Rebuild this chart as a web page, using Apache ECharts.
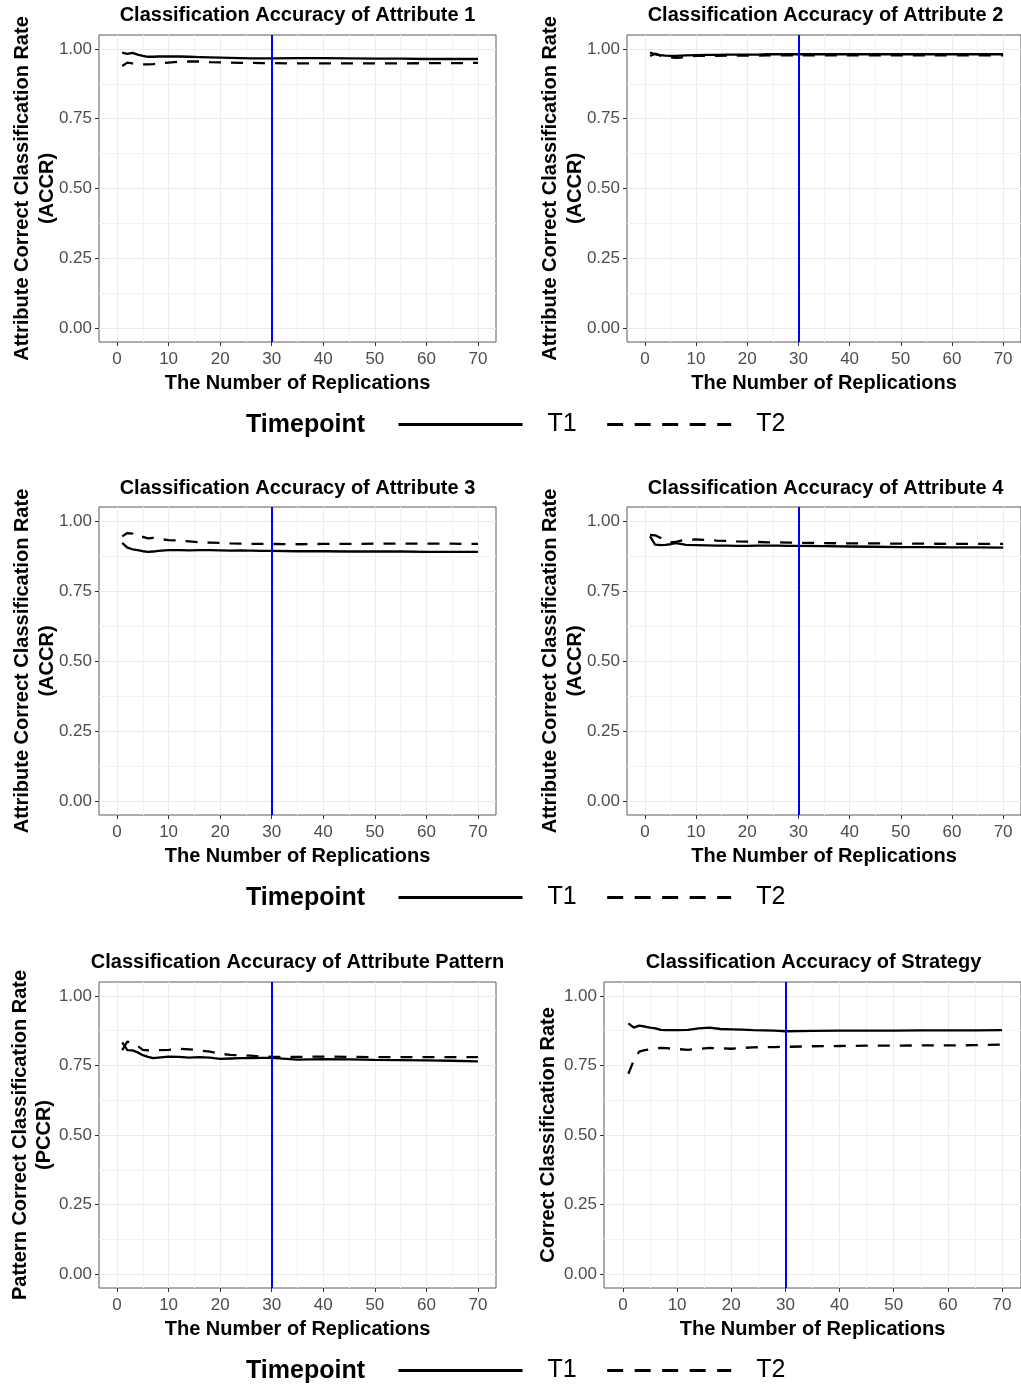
<!DOCTYPE html>
<html><head><meta charset="utf-8">
<script src="https://cdn.jsdelivr.net/npm/echarts@6/dist/echarts.min.js"></script>
<style>html,body{margin:0;padding:0;background:#fff}#c{width:1021px;height:1387px}</style>
</head><body><div id="c"></div>
<script>
// ---------------- data ----------------
const replications = [1,2,3,4,5,6,7,8,10,12,14,16,18,20,22,24,26,28,30,35,40,45,50,55,60,65,70];

const attr1T1 = [0.987,0.982,0.986,0.980,0.975,0.972,0.972,0.973,0.973,0.973,0.972,0.971,0.970,0.969,0.968,0.967,0.966,0.966,0.966,0.967,0.967,0.966,0.965,0.965,0.964,0.964,0.964];
const attr1T2 = [0.939,0.951,0.948,0.946,0.945,0.945,0.946,0.948,0.951,0.954,0.955,0.955,0.953,0.952,0.951,0.950,0.950,0.949,0.949,0.948,0.948,0.948,0.948,0.948,0.949,0.949,0.950];

const attr2T1 = [0.987,0.981,0.978,0.976,0.975,0.975,0.976,0.977,0.978,0.979,0.979,0.980,0.980,0.980,0.980,0.981,0.981,0.981,0.981,0.981,0.981,0.981,0.981,0.981,0.981,0.981,0.981];
const attr2T2 = [0.975,0.983,0.976,0.972,0.970,0.968,0.969,0.972,0.975,0.975,0.975,0.976,0.976,0.976,0.976,0.977,0.977,0.977,0.977,0.977,0.977,0.977,0.977,0.977,0.977,0.977,0.977];

const attr3T1 = [0.922,0.905,0.899,0.896,0.892,0.890,0.891,0.893,0.896,0.896,0.895,0.896,0.896,0.895,0.894,0.895,0.894,0.893,0.893,0.892,0.892,0.891,0.891,0.891,0.890,0.890,0.890];
const attr3T2 = [0.945,0.957,0.955,0.942,0.943,0.938,0.940,0.936,0.932,0.930,0.927,0.924,0.923,0.922,0.920,0.919,0.918,0.918,0.918,0.917,0.918,0.918,0.919,0.919,0.919,0.919,0.918];

const attr4T1 = [0.945,0.916,0.914,0.915,0.917,0.921,0.918,0.915,0.914,0.913,0.912,0.912,0.911,0.911,0.912,0.912,0.912,0.911,0.911,0.910,0.909,0.908,0.907,0.907,0.906,0.906,0.905];
const attr4T2 = [0.950,0.949,0.940,0.930,0.924,0.925,0.930,0.933,0.934,0.932,0.930,0.929,0.927,0.926,0.925,0.924,0.924,0.923,0.922,0.921,0.920,0.920,0.919,0.919,0.918,0.918,0.918];

const patternT1 = [0.833,0.805,0.804,0.797,0.787,0.781,0.776,0.778,0.782,0.781,0.778,0.780,0.778,0.774,0.775,0.776,0.776,0.777,0.777,0.771,0.773,0.772,0.770,0.769,0.768,0.767,0.765];
const patternT2 = [0.805,0.836,0.830,0.820,0.806,0.804,0.804,0.805,0.806,0.810,0.808,0.804,0.800,0.792,0.788,0.786,0.785,0.782,0.781,0.781,0.782,0.781,0.780,0.780,0.780,0.780,0.780];

const strategyT1 = [0.901,0.886,0.893,0.890,0.886,0.883,0.878,0.877,0.877,0.878,0.883,0.886,0.881,0.880,0.879,0.877,0.876,0.875,0.873,0.874,0.875,0.875,0.875,0.876,0.876,0.876,0.877];
const strategyT2 = [0.720,0.768,0.800,0.805,0.808,0.811,0.813,0.812,0.809,0.806,0.810,0.813,0.812,0.810,0.813,0.815,0.816,0.816,0.817,0.819,0.820,0.821,0.821,0.822,0.822,0.823,0.825];

const xTicks = [0,10,20,30,40,50,60,70];
const xMinorTicks = [5,15,25,35,45,55,65];
const yTicks = [0,0.25,0.5,0.75,1];
const yMinorTicks = [0.125,0.375,0.625,0.875];
const cutoffReplication = 30;
const seriesNames = ['T1','T2'];
const legendTitle = 'Timepoint';

const panelTitles = [
  'Classification Accuracy of Attribute 1',
  'Classification Accuracy of Attribute 2',
  'Classification Accuracy of Attribute 3',
  'Classification Accuracy of Attribute 4',
  'Classification Accuracy of Attribute Pattern',
  'Classification Accuracy of Strategy'
];
const yTitles = [
  'Attribute Correct Classification Rate\n(ACCR)',
  'Attribute Correct Classification Rate\n(ACCR)',
  'Attribute Correct Classification Rate\n(ACCR)',
  'Attribute Correct Classification Rate\n(ACCR)',
  'Pattern Correct Classification Rate\n(PCCR)',
  'Correct Classification Rate'
];
const xTitle = 'The Number of Replications';
const panelSeries = [
  [attr1T1, attr1T2],[attr2T1, attr2T2],[attr3T1, attr3T2],
  [attr4T1, attr4T2],[patternT1, patternT2],[strategyT1, strategyT2]
];

// ---------------- layout ----------------
const FONT = '"Liberation Sans", Arial, Helvetica, sans-serif';
const layout = [
  {left:99, top:35, width:397, height:307, titleTop:5, nameGap:39.5, lh:25},
  {left:627, top:35, width:397, height:307, titleTop:5, nameGap:39.5, lh:25},
  {left:99, top:507, width:397, height:308, titleTop:478, nameGap:39.5, lh:25},
  {left:627, top:507, width:397, height:308, titleTop:478, nameGap:39.5, lh:25},
  {left:99, top:982, width:397, height:306, titleTop:952, nameGap:42.5, lh:24},
  {left:604, top:982, width:419, height:306, titleTop:952, nameGap:44, lh:24}
];
const legendRows = [424, 897, 1370];

const grids = [], xAxes = [], yAxes = [], titles = [], series = [];
layout.forEach((L, i) => {
  grids.push({left:L.left, top:L.top, width:L.width, height:L.height, show:true,
    borderColor:'#5a5a5a', borderWidth:1, backgroundColor:'transparent', containLabel:false});
  titles.push({text:panelTitles[i], left:L.left + L.width/2, top:L.titleTop, textAlign:'center', padding:0,
    textStyle:{fontFamily:FONT, fontSize:20, fontWeight:'bold', color:'#000'}});
  // labelled x axis (major grid)
  xAxes.push({type:'value', gridIndex:i, min:-3.5, max:73.5, position:'bottom',
    name:xTitle, nameLocation:'middle', nameGap:31, nameMoveOverlap:false,
    nameTextStyle:{fontFamily:FONT, fontSize:20, fontWeight:'bold', color:'#000', verticalAlign:'top'},
    axisLine:{show:false, onZero:false},
    axisTick:{show:true, customValues:xTicks, length:4, lineStyle:{color:'#333', width:1}},
    axisLabel:{show:true, customValues:xTicks, margin:8.5, fontFamily:FONT, fontSize:17, color:'#4D4D4D',
      formatter:v => String(v)},
    splitLine:{show:true, lineStyle:{color:'#EBEBEB', width:1}}
  });
  // minor x grid
  xAxes.push({type:'value', gridIndex:i, min:-3.5, max:73.5,
    axisLine:{show:false, onZero:false}, axisTick:{show:false, customValues:xMinorTicks}, axisLabel:{show:false, customValues:xMinorTicks},
    splitLine:{show:true, lineStyle:{color:'#F3F3F3', width:1}}
  });
  yAxes.push({type:'value', gridIndex:i, min:-0.05, max:1.05, position:'left',
    name:yTitles[i], nameLocation:'middle', nameGap:L.nameGap, nameRotate:90, nameMoveOverlap:false,
    nameTextStyle:{fontFamily:FONT, fontSize:20, fontWeight:'bold', color:'#000', lineHeight:L.lh, align:'center'},
    axisLine:{show:false, onZero:false},
    axisTick:{show:true, customValues:yTicks, length:4, lineStyle:{color:'#333', width:1}},
    axisLabel:{show:true, customValues:yTicks, margin:7, fontFamily:FONT, fontSize:17, color:'#4D4D4D',
      formatter:v => Number(v).toFixed(2)},
    splitLine:{show:true, lineStyle:{color:'#EBEBEB', width:1}}
  });
  yAxes.push({type:'value', gridIndex:i, min:-0.05, max:1.05,
    axisLine:{show:false, onZero:false}, axisTick:{show:false, customValues:yMinorTicks}, axisLabel:{show:false, customValues:yMinorTicks},
    splitLine:{show:true, lineStyle:{color:'#F3F3F3', width:1}}
  });
  panelSeries[i].forEach((vals, k) => {
    const s = {
      name:seriesNames[k], type:'line', xAxisIndex:2*i, yAxisIndex:2*i,
      data:replications.map((x, j) => [x, vals[j]]),
      symbol:'none', showSymbol:false, smooth:false, silent:true, z:3,
      lineStyle:{color:'#000', width:2.3, type:(k === 0 ? 'solid' : [12, 10])},
      itemStyle:{color:'#000'}
    };
    if (k === 0) {
      s.markLine = {silent:true, symbol:['none','none'], animation:false, z:5,
        label:{show:false},
        lineStyle:{color:'#0000FF', width:2, type:'solid'},
        data:[{xAxis:cutoffReplication}]};
    }
    series.push(s);
  });
});

const hiddenSymbol = {color:'rgba(0,0,0,0)', borderColor:'rgba(0,0,0,0)', borderWidth:0, opacity:0};
const legends = legendRows.map(cy => ({
  left:397, top:cy - 12, padding:0, itemWidth:124, itemHeight:16, itemGap:29,
  selectedMode:false,
  textStyle:{fontFamily:FONT, fontSize:25, color:'#000', padding:[0,0,0,20]},
  data:[
    {name:'T1', itemStyle:hiddenSymbol, lineStyle:{width:3, type:'solid', color:'#000', opacity:1}},
    {name:'T2', itemStyle:hiddenSymbol, lineStyle:{width:3, type:[16, 11.5], color:'#000', opacity:1}}
  ]
}));

const graphics = legendRows.map(cy => ({
  type:'text', left:246, top:cy - 11,
  style:{text:legendTitle, font:'bold 25px ' + FONT, fill:'#000'}
}));

const chart = echarts.init(document.getElementById('c'), null, {renderer:'canvas'});
chart.setOption({
  animation:false,
  backgroundColor:'#fff',
  title:titles,
  grid:grids,
  xAxis:xAxes,
  yAxis:yAxes,
  legend:legends,
  graphic:graphics,
  series:series
});
</script>
</body></html>
